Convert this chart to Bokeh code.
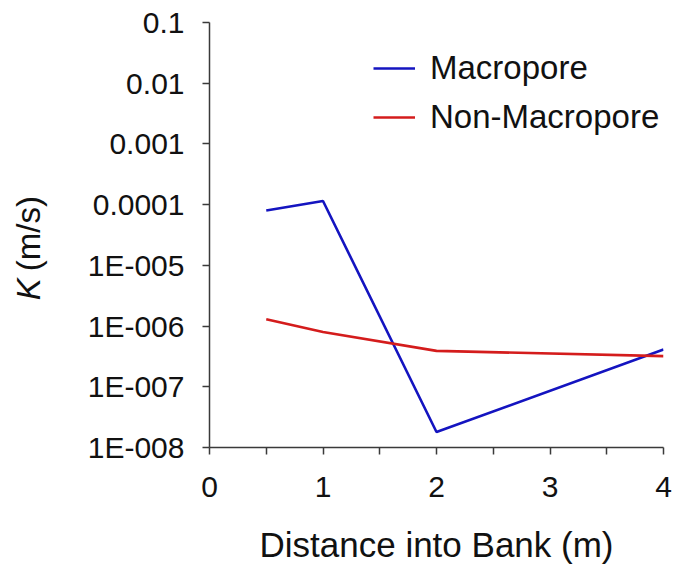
from math import pi

from bokeh.core.properties import value
from bokeh.embed import file_html
from bokeh.layouts import row
from bokeh.models import (CustomJSTickFormatter, FixedTicker, Legend,
                          LegendItem, Range1d)
from bokeh.plotting import figure
from bokeh.resources import INLINE

# Hydraulic conductivity measured at increasing distance into the bank
distance = [0.5, 1.0, 2.0, 4.0]
k_macropore = [8.0e-5, 1.15e-4, 1.8e-8, 4.1e-7]
k_non_macropore = [1.3e-6, 8.0e-7, 3.9e-7, 3.2e-7]

x_ticks = [0, 1, 2, 3, 4]
x_minor_ticks = [0.5, 1.5, 2.5, 3.5]
y_ticks = [1e-8, 1e-7, 1e-6, 1e-5, 1e-4, 1e-3, 1e-2, 1e-1]
y_tick_labels = ["1E-008", "1E-007", "1E-006", "1E-005",
                 "0.0001", "0.001", "0.01", "0.1"]

FONT = "Liberation Sans"
AXIS_COLOR = "#3a3a3a"
TEXT_COLOR = "#111111"
TITLE_W = 60          # strip holding the rotated y-axis title
TOTAL_W, TOTAL_H = 682, 569

# --- narrow strip with the y-axis title "K (m/s)", K in italics -------------
t = figure(width=TITLE_W, height=TOTAL_H,
           x_range=Range1d(0, TITLE_W), y_range=Range1d(0, TOTAL_H),
           x_axis_location=None, y_axis_location=None,
           output_backend="svg", toolbar_location=None)
t.min_border = 0
t.outline_line_color = None
t.xgrid.visible = False
t.ygrid.visible = False
t.text(x=[28], y=[197], text=["K"], angle=pi / 2,
       text_align="left", text_baseline="middle",
       text_font=value(FONT), text_font_size="33px",
       text_font_style="italic", text_color=TEXT_COLOR)
t.text(x=[28], y=[236], text=["(m/s)"], angle=pi / 2,
       text_align="left", text_baseline="middle",
       text_font=value(FONT), text_font_size="33px",
       text_color=TEXT_COLOR)

# --- main chart ---------------------------------------------------------------
p = figure(width=TOTAL_W - TITLE_W, height=TOTAL_H, y_axis_type="log",
           x_range=Range1d(0, 4), y_range=Range1d(1e-8, 0.1),
           output_backend="svg", toolbar_location=None)
p.min_border_left = 209 - TITLE_W
p.min_border_right = 19
p.min_border_top = 22
p.min_border_bottom = 122
p.outline_line_color = None
p.xgrid.visible = False
p.ygrid.visible = False

r_macro = p.line(distance, k_macropore, line_color="#1414c0", line_width=2.6)
r_non = p.line(distance, k_non_macropore, line_color="#d41c1c", line_width=2.6)

# x axis: integer labels, unlabelled half-metre ticks of the same length
xa = p.xaxis[0]
xa.ticker = FixedTicker(ticks=x_ticks, minor_ticks=x_minor_ticks)
xa.axis_label = "Distance into Bank (m)"
xa.axis_label_text_font = FONT
xa.axis_label_text_font_size = "35px"
xa.axis_label_text_font_style = "normal"
xa.axis_label_text_color = TEXT_COLOR
xa.axis_label_standoff = 25
xa.major_label_text_font = FONT
xa.major_label_text_font_size = "30px"
xa.major_label_text_color = TEXT_COLOR
xa.major_label_standoff = 22
for ax in (xa, p.yaxis[0]):
    ax.axis_line_color = AXIS_COLOR
    ax.axis_line_width = 1.5
    ax.major_tick_line_color = AXIS_COLOR
    ax.major_tick_line_width = 1.5
    ax.minor_tick_line_color = AXIS_COLOR
    ax.minor_tick_line_width = 1.5
    ax.major_tick_in = 0
    ax.major_tick_out = 7
    ax.minor_tick_in = 0
    ax.minor_tick_out = 7

# y axis: one tick per decade, spreadsheet-style labels
ya = p.yaxis[0]
ya.ticker = FixedTicker(ticks=y_ticks, minor_ticks=[])
ya.formatter = CustomJSTickFormatter(
    args=dict(labels=y_tick_labels),
    code="return labels[Math.round(Math.log10(tick)) + 8];")
ya.major_label_text_font = FONT
ya.major_label_text_font_size = "30px"
ya.major_label_text_color = TEXT_COLOR
ya.major_label_standoff = 18

legend = Legend(items=[LegendItem(label="Macropore", renderers=[r_macro]),
                       LegendItem(label="Non-Macropore", renderers=[r_non])],
                location=(164, 311))
legend.border_line_color = None
legend.background_fill_alpha = 0
legend.padding = 0
legend.margin = 0
legend.glyph_width = 42
legend.label_standoff = 15
legend.spacing = 11
legend.label_text_font = FONT
legend.label_text_font_size = "33px"
legend.label_text_color = TEXT_COLOR
p.add_layout(legend)

layout = row(t, p, spacing=0)
open("out.html", "w").write(file_html(layout, INLINE))
